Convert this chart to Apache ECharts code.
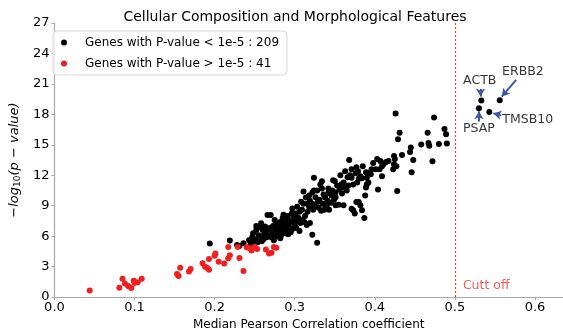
<!DOCTYPE html>
<html>
<head>
<meta charset="utf-8">
<script src="https://cdn.jsdelivr.net/npm/echarts@6/dist/echarts.min.js"></script>
<style>
  html, body { margin: 0; padding: 0; background: #fff; }
  #chart { width: 563px; height: 336px; }
</style>
</head>
<body>
<div id="chart"></div>
<script>
// genes passing the threshold (black)
const sigPoints = [
  [0.194,5.29],[0.219,5.58],[0.228,5.13],[0.231,5.03],[0.236,5.3],
  [0.243,5.6],[0.245,5.2],[0.247,5.9],[0.248,6.3],[0.249,5.5],
  [0.251,5.7],[0.252,6.6],[0.252,7.0],[0.254,5.4],[0.255,6.1],[0.256,6.9],[0.257,5.9],[0.258,7.28],[0.259,5.5],
  [0.260,6.6],[0.261,5.7],[0.262,6.2],[0.263,6.95],[0.264,6.3],[0.265,5.9],[0.266,6.63],[0.266,8.08],[0.268,6.1],[0.269,6.8],[0.270,8.08],
  [0.271,5.9],[0.272,6.4],[0.273,7.0],[0.274,5.6],[0.275,6.2],[0.276,6.7],[0.277,7.3],[0.278,6.0],[0.279,7.0],[0.278,6.5],[0.275,7.6],
  [0.280,6.3],[0.281,6.8],[0.282,7.4],[0.282,5.8],[0.283,6.1],[0.284,7.0],[0.285,6.5],[0.285,7.8],[0.287,7.2],[0.287,6.7],[0.288,6.3],[0.289,7.5],[0.286,8.1],
  [0.290,6.5],[0.291,7.1],[0.292,6.2],[0.293,7.6],[0.293,6.8],[0.294,7.3],[0.295,6.4],[0.296,8.2],[0.297,8.72],[0.297,6.7],[0.298,7.5],[0.299,7.98],[0.291,8.0],
  [0.300,7.2],[0.301,8.24],[0.302,6.8],[0.303,7.5],[0.303,8.9],[0.305,7.8],[0.306,6.5],[0.306,8.4],[0.307,7.3],[0.308,9.4],[0.309,7.6],[0.309,8.6],
  [0.311,9.2],[0.312,7.4],[0.313,8.0],[0.314,9.8],[0.315,7.1],[0.316,9.2],[0.316,8.4],[0.318,10.0],[0.318,8.9],[0.319,7.3],[0.319,9.5],[0.311,10.4],
  [0.322,9.2],[0.322,6.15],[0.322,10.3],[0.323,8.6],[0.324,11.76],[0.324,10.5],[0.325,9.0],[0.326,9.84],[0.328,10.5],[0.328,5.35],[0.329,9.4],
  [0.330,8.8],[0.331,9.6],[0.332,11.1],[0.333,8.5],[0.334,10.7],[0.335,9.2],[0.336,10.1],[0.337,8.6],[0.338,9.8],[0.339,9.0],[0.334,11.4],
  [0.340,8.9],[0.341,9.5],[0.342,10.7],[0.342,10.26],[0.343,8.6],[0.345,9.3],[0.346,10.0],[0.347,10.5],[0.348,11.5],[0.349,9.6],
  [0.350,11.44],[0.351,10.3],[0.351,9.84],[0.351,9.04],[0.353,11.0],[0.355,9.1],[0.356,10.6],[0.357,12.0],[0.358,11.1],[0.359,10.2],
  [0.361,9.04],[0.361,10.8],[0.361,11.3],[0.363,12.4],[0.365,10.5],[0.366,11.8],[0.367,11.0],[0.368,13.5],[0.369,12.0],
  [0.371,12.6],[0.371,11.76],[0.371,8.7],[0.373,11.1],[0.373,8.56],[0.375,8.24],[0.376,12.2],[0.377,12.8],[0.377,9.36],[0.379,12.4],[0.378,11.3],
  [0.380,11.66],[0.380,9.36],[0.382,11.9],[0.382,9.04],[0.384,11.7],[0.384,8.56],[0.387,7.8],[0.388,10.0],[0.389,10.8],[0.389,12.3],[0.385,12.9],
  [0.390,11.1],[0.390,11.76],[0.392,11.3],[0.392,12.2],[0.395,12.1],[0.396,12.6],[0.398,13.2],
  [0.401,12.6],[0.403,13.6],[0.404,10.6],[0.406,12.6],[0.409,12.9],[0.409,11.9],[0.407,13.4],
  [0.411,13.1],[0.414,13.3],[0.417,13.4],
  [0.424,13.9],[0.424,13.08],[0.425,13.6],[0.426,18.08],[0.428,10.45],[0.429,15.55],[0.427,12.9],[0.423,12.6],
  [0.431,16.18],[0.434,14.0],
  [0.444,14.3],[0.445,14.74],[0.446,12.3],[0.448,13.5],
  [0.458,15.03],
  [0.466,16.18],[0.467,15.19],[0.468,14.9],[0.472,13.37],
  [0.474,17.7],[0.480,15.07],
  [0.487,16.57],[0.489,16.03],[0.490,15.13],
  [0.533,19.36],[0.530,18.6],[0.556,19.4],[0.543,18.24]
];

// genes above the threshold (red)
const nsPoints = [
  [0.044,0.64],[0.081,0.93],[0.085,1.8],[0.088,1.35],[0.092,1.09],[0.096,0.9],[0.099,1.6],[0.100,1.38],[0.104,1.47],[0.109,1.8],
  [0.153,2.28],[0.155,2.09],[0.157,2.9],[0.168,2.53],[0.170,2.76],[0.185,3.33],[0.188,2.98],[0.191,2.86],[0.193,2.69],[0.193,3.75],
  [0.200,4.07],[0.201,4.3],[0.205,3.49],[0.212,3.3],[0.217,3.82],[0.219,4.13],[0.217,4.93],[0.231,3.85],[0.236,2.57],[0.229,4.93],
  [0.243,4.84],[0.246,4.6],[0.250,4.93],[0.264,4.68],[0.271,4.36],[0.274,4.93],[0.240,4.9],[0.247,4.8],[0.253,4.75],[0.268,4.3],[0.277,4.85]
];

const xTicks = [0, 0.1, 0.2, 0.3, 0.4, 0.5, 0.6];
const cutoff = 0.5;

// labelled genes: text position and arrow (start -> end)
const geneNames = ['ACTB', 'PSAP', 'ERBB2', 'TMSB10'];
const geneLabelPos = [[0.531, 21.35], [0.530, 16.54], [0.585, 22.2], [0.591, 17.5]];
const geneArrows = [
  [[0.532, 20.5], [0.532, 19.75]],
  [[0.530, 17.3], [0.530, 18.3]],
  [[0.5765, 21.4], [0.5585, 19.75]],
  [[0.558, 17.9], [0.548, 18.1]]
];

const FONT = 'DejaVu Sans';
const sigName = `Genes with P-value < 1e-5 : ${sigPoints.length}`;
const nsName = `Genes with P-value > 1e-5 : ${nsPoints.length}`;

const chart = echarts.init(document.getElementById('chart'));

const option = {
  animation: false,
  textStyle: { fontFamily: FONT },
  title: {
    text: 'Cellular Composition and Morphological Features',
    left: 290,
    textAlign: 'center',
    top: 5,
    textStyle: { fontFamily: FONT, fontSize: 14, fontWeight: 'normal', color: '#000' }
  },
  legend: {
    data: [sigName, nsName],
    orient: 'vertical',
    left: 53,
    top: 31,
    padding: [4, 8, 4, 8],
    itemGap: 6,
    itemWidth: 14,
    itemHeight: 6,
    icon: 'circle',
    borderColor: '#d6d6d6',
    borderWidth: 1,
    borderRadius: 4,
    backgroundColor: 'rgba(255,255,255,0.8)',
    textStyle: { fontFamily: FONT, fontSize: 12, color: '#000', lineHeight: 15, padding: [0, 0, 0, 9] }
  },
  grid: { left: 50, right: 0, top: 23, bottom: 32 },
  xAxis: {
    type: 'value',
    min: 0,
    max: 0.635,
    name: 'Median Pearson Correlation coefficient',
    nameLocation: 'middle',
    nameGap: 17,
    nameTextStyle: { fontFamily: FONT, fontSize: 12, color: '#000' },
    axisLine: { lineStyle: { color: '#a8a8a8', width: 1.2 } },
    axisTick: { customValues: xTicks, length: 3, lineStyle: { color: '#a8a8a8' } },
    axisLabel: {
      customValues: xTicks,
      formatter: v => v.toFixed(1),
      margin: 4,
      fontFamily: FONT, fontSize: 13, color: '#000'
    },
    splitLine: { show: false }
  },
  yAxis: {
    type: 'value',
    min: 0,
    max: 27,
    interval: 3,
    name: '{a|−log}{s|10}{a|(p − value)}',
    nameLocation: 'middle',
    nameGap: 23,
    nameTextStyle: {
      rich: {
        a: { fontFamily: FONT, fontSize: 13, fontStyle: 'italic', color: '#000' },
        s: { fontFamily: FONT, fontSize: 9, color: '#000', padding: [6, 0, 0, 0] }
      }
    },
    axisLine: { show: true, lineStyle: { color: '#a8a8a8', width: 1.2 } },
    axisTick: { show: true, length: 3, lineStyle: { color: '#a8a8a8' } },
    axisLabel: { margin: 5, fontFamily: FONT, fontSize: 13, color: '#000' },
    splitLine: { show: false }
  },
  series: [
    {
      name: sigName,
      type: 'scatter',
      data: sigPoints,
      symbolSize: 6,
      itemStyle: { color: '#000', opacity: 1 }
    },
    {
      name: nsName,
      type: 'scatter',
      data: nsPoints,
      symbolSize: 6,
      itemStyle: { color: '#f01e1e', opacity: 1 },
      // cutoff line in red, dotted
      markLine: {
        silent: true,
        symbol: ['none', 'none'],
        label: { show: false },
        itemStyle: { color: '#ff2020' },
        lineStyle: { color: '#ff2020', type: [2, 2], width: 1.2, opacity: 0.9 },
        data: [{ xAxis: cutoff }]
      }
    },
    {
      name: 'annotations',
      type: 'scatter',
      silent: true,
      symbolSize: 0,
      data: geneNames.map((g, i) => ({ name: g, value: geneLabelPos[i] })),
      label: {
        show: true,
        position: 'inside',
        formatter: p => p.name,
        fontFamily: FONT, fontSize: 12.5, color: '#000'
      },
      markLine: {
        silent: true,
        symbol: ['none', 'arrow'],
        symbolSize: [7, 8],
        label: { show: false },
        lineStyle: { color: '#3b57a8', width: 2, type: 'solid' },
        data: geneArrows.map(a => [{ coord: a[0] }, { coord: a[1] }])
      }
    },
    {
      name: 'cutoffLabel',
      type: 'scatter',
      silent: true,
      symbolSize: 0,
      data: [{ name: 'Cutt off', value: [cutoff + 0.01, 1.15] }],
      label: {
        show: true,
        position: 'right',
        distance: 0,
        formatter: p => p.name,
        fontFamily: FONT, fontSize: 12.5, color: '#f03030'
      }
    }
  ]
};

chart.setOption(option);
</script>
</body>
</html>
